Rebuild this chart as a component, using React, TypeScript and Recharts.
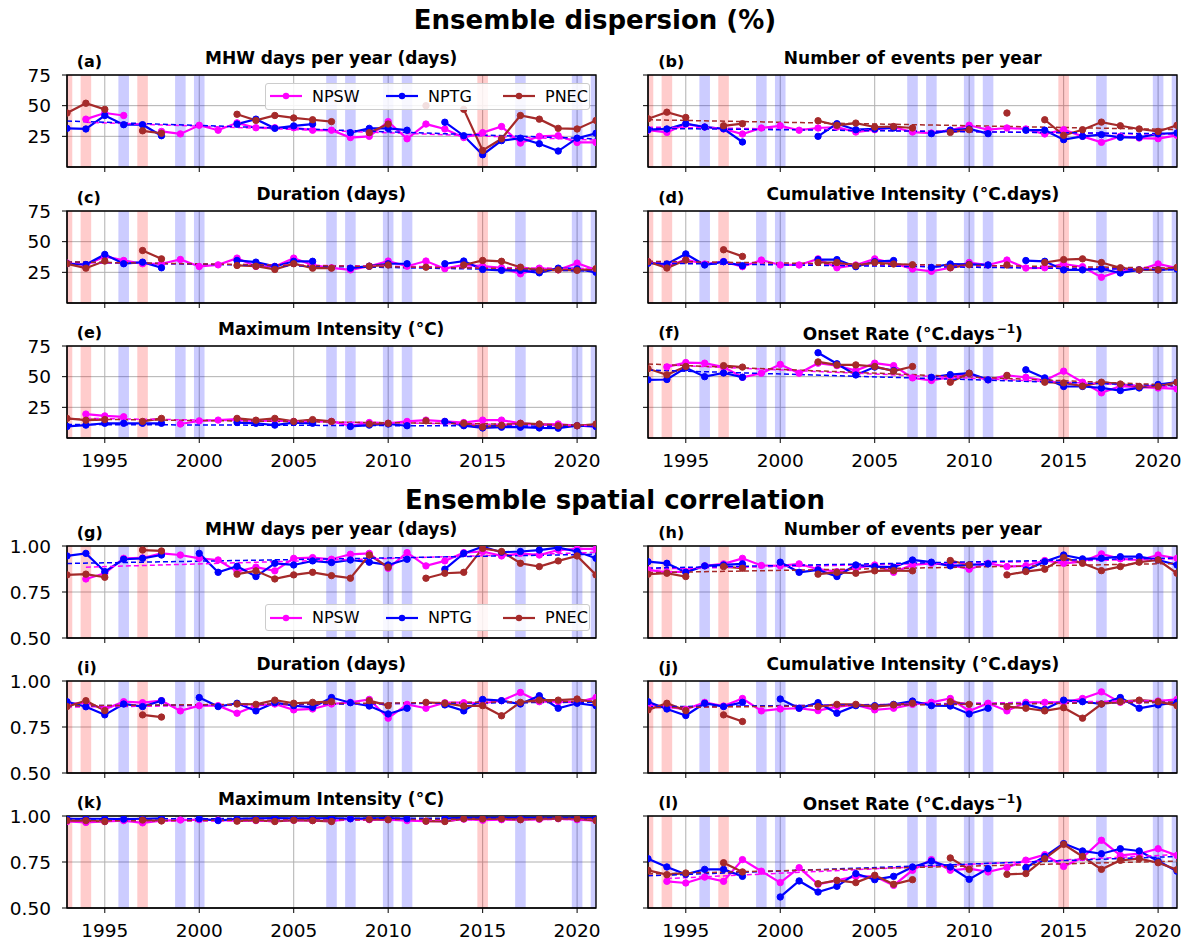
import React from 'react';
import { LineChart, Line, XAxis, YAxis, CartesianGrid, ReferenceArea, ReferenceLine } from 'recharts';

const YEARS = [1993, 1994, 1995, 1996, 1997, 1998, 1999, 2000, 2001, 2002, 2003, 2004, 2005, 2006, 2007, 2008, 2009, 2010, 2011, 2012, 2013, 2014, 2015, 2016, 2017, 2018, 2019, 2020, 2021];
const EL_NINO_YEARS = [1993, 1994, 1997, 2015];
const LA_NINA_YEARS = [1996, 1999, 2000, 2007, 2008, 2010, 2011, 2017, 2020, 2021];
const X_TICKS = [1995, 2000, 2005, 2010, 2015, 2020];
const PCT_TICKS = [25, 50, 75];
const CORR_TICKS = [0.5, 0.75, 1.0];
const SERIES_NAMES = ['NPSW', 'NPTG', 'PNEC'];
const SERIES_KEYS = ['npsw', 'nptg', 'pnec'];
const SERIES_COLORS = ['#ff00ff', '#0000ff', '#a52a2a'];

const N = null;

// (a) MHW days per year – dispersion
const A_NPSW = [N, 39, 44, 42, N, 29, 27, 34, 30, 36, 32, 32, 32, 30, 30, 24, 25, 37, 23, 35, 31, 24, 28, 33, 19.5, 25, 25.5, 20, 20];
const A_NPTG = [31.5, 31, 42, 34.5, 34.5, 25.5, N, N, N, 35, 39, 31.5, 33.5, 35, N, 28, 31.5, 31.5, 30, N, 36.5, 25.5, 10, 21.5, 23.5, 19, 13, 23.5, 27.5];
const A_PNEC = [44, 52, 47, N, 29.5, 27.5, N, N, N, 43, 38, 42, 40, 38.5, 37, N, 28, 35, N, 50, N, 47, 13.5, 23, 42, 39, 31.5, 31, 38];
const A_TRENDS = [[1994, 36.5, 2021, 22], [1993, 37.5, 2021, 23], null];

// (b) Number of events per year – dispersion
const B_NPSW = [30, 28.2, 35, 32.6, 31, 26.9, 31.8, 33.6, 30, 31.8, 32.6, 28.5, 30.4, 32.6, 28.5, 27.7, 30, 34, 30.4, 31.8, 31, 26.9, 30.4, 25, 20.1, 25, 23.6, 23.1, 25.8];
const B_NPTG = [30.4, 31, 35.3, 32.6, 31.2, 20.4, N, N, N, 25, 35.3, 30.4, 31, 31.8, N, 27.2, 30, 31, 27.2, N, 30, 30, 22.3, 25, 26.4, 24.2, 24.2, 27, 27.7];
const B_PNEC = [39.3, 44.7, 40.4, N, 33.6, 35.3, N, N, N, 37.7, 34, 35.8, 32.6, 33, 31.8, N, 28.2, 30.4, N, 44, N, 38.5, 25.8, 30.4, 36.6, 33.6, 31, 29, 34];
const B_TRENDS = [[1993, 32.5, 2021, 26.5], [1993, 31.5, 2021, 27], [1993, 38.5, 2021, 30.5]];

// (c) Duration – dispersion
const C_NPSW = [32.5, 31, 38, 34.7, 32, 32, 35.5, 29.8, 31.1, 36.6, 29.8, 29.8, 36.6, 31, 28.7, 27, 30, 34.2, 30, 34.2, 28, 31, 30, 28.7, 23.8, 28.4, 27, 32.5, 27];
const C_NPTG = [32, 31.4, 39.6, 32, 33.3, 28.7, N, N, N, 34.7, 33.3, 29.8, 34, 34, N, 28.4, 30, 32, 32, N, 32, 34.2, 27.4, 26.6, 26.6, 24.6, 28.4, 27.8, 25];
const C_PNEC = [32, 28.4, 34.2, N, 42.8, 36, N, N, N, 30.6, 30, 27.4, 32, 28.4, 28.4, N, 30, 31, N, 29.2, N, 31, 34.7, 34, 29.2, 26.6, 27, 26.6, 28];
const C_TRENDS = [[1993, 33, 2021, 28], [1993, 33.5, 2021, 26], [1993, 33.5, 2021, 27]];

// (d) Cumulative intensity – dispersion
const D_NPSW = [33.7, 30, 35.4, 31.8, 33.7, 29.6, 35, 31, 31, 36, 28.7, 31, 36, 32.4, 27.7, 25.8, 28.7, 33, 31, 35, 28.5, 28.7, 31.8, 29.6, 21, 26.4, 27, 31.8, 28.5];
const D_NPTG = [32.4, 31.8, 40, 31, 33.7, 30.4, N, N, N, 35.4, 35.4, 29.6, 33.7, 34.6, N, 29, 31.8, 31.5, 31, N, 34.6, 34, 27, 27, 27.7, 24.5, 27, 27, 27.7];
const D_PNEC = [33.7, 28.5, 35, N, 43.4, 38, N, N, N, 33, 33, 30.4, 33, 31.8, 31.2, N, 28.7, 31.2, N, 31, N, 33, 35.4, 36, 33, 28.7, 27, 27, 29];
const D_TRENDS = [[1993, 33, 2021, 27.5], [1993, 32.5, 2021, 27], [1993, 34, 2021, 28.5]];

// (e) Maximum intensity – dispersion
const E_NPSW = [N, 19.5, 18, 17.3, N, N, 11.4, 14, 14.6, 15.4, 14, 14.6, 13.5, 14, 13.5, 10, 12.6, 12, 13.5, 14.6, 13.5, 12.6, 14.6, 14.6, 12, 11, 11.4, 10, 9.4];
const E_NPTG = [9.4, 10.5, 12, 12, 12, 12, N, N, N, 12.6, 12, 10.5, 12.6, 12, N, 9.4, 10.5, 11.4, 10, N, 13.5, 10, 8.2, 8.8, 8.8, 8.2, 8, 10, 9.4];
const E_PNEC = [16, 14.5, 15, N, 13.5, 16, N, N, N, 16, 14.5, 16, 13.5, 15, 13.5, N, 11.4, 12, N, 14, N, 12, 9, 10.4, 12, 11.4, 10, 10, 11.4];
const E_TRENDS = [[1994, 16, 2021, 10], [1993, 11, 2021, 9.5], [1993, 15.5, 2021, 10.5]];

// (f) Onset rate – dispersion
const F_NPSW = [N, 58, 61.5, 61, 57.8, 49.5, 52.8, 60, 52.8, 61, 59, 55, 61, 59, 49, 46.9, 49.5, 52.3, 47.4, 51, 49.5, 46.9, 54.5, 45.5, 36.8, 42.3, 41.4, 40.8, 40];
const F_NPTG = [47.4, 47.7, 57.2, 50, 53, 49.5, N, N, N, 69.5, 60.5, 51.4, 57.8, 55, N, 49.5, 51.7, 52.8, 47.4, N, 55.6, 49, 42, 42, 40.8, 38.7, 40.8, 43.6, 45.5];
const F_PNEC = [56.5, 51.5, 58.3, N, 59, 57.8, N, N, N, 62, 59.6, 59.6, 58.3, 54.5, 58.3, N, 45.5, 52.8, N, 51, N, 45.5, 44.9, 42.3, 45.5, 44, 42, 42, 45.5];
const F_TRENDS = [[1994, 59.5, 2021, 41.5], [1993, 55.4, 2021, 42.5], [1993, 60.3, 2021, 43]];

// (g) MHW days per year – correlation
const G_NPSW = [N, 0.821, 0.852, 0.933, 0.935, 0.96, 0.951, 0.933, 0.924, 0.861, 0.885, 0.865, 0.933, 0.937, 0.928, 0.955, 0.96, 0.879, 0.964, 0.892, 0.919, 0.964, 0.97, 0.946, 0.96, 0.951, 0.978, 0.984, 0.984];
const G_NPTG = [0.946, 0.96, 0.861, 0.928, 0.933, 0.951, N, 0.96, 0.857, 0.89, 0.834, 0.906, 0.897, 0.919, 0.91, 0.924, 0.912, 0.897, 0.928, N, 0.874, 0.96, 0.996, 0.966, 0.97, 0.978, 0.991, 0.97, 0.933];
const G_PNEC = [0.843, 0.847, 0.83, N, 0.978, 0.973, N, N, N, 0.847, 0.865, 0.821, 0.843, 0.857, 0.839, 0.825, 0.951, 0.885, N, 0.825, 0.852, 0.857, 0.987, 0.97, 0.906, 0.888, 0.919, 0.946, 0.843];
const G_TRENDS = [[1994, 0.885, 2021, 0.965], [1993, 0.905, 2021, 0.955], null];

// (h) Number of events per year – correlation
const H_NPSW = [0.87, 0.857, 0.861, 0.892, 0.903, 0.933, 0.894, 0.892, 0.903, 0.874, 0.861, 0.879, 0.897, 0.857, 0.897, 0.906, 0.897, 0.874, 0.906, 0.888, 0.892, 0.921, 0.906, 0.915, 0.957, 0.93, 0.924, 0.951, 0.933];
const H_NPTG = [0.915, 0.906, 0.857, 0.892, 0.897, 0.903, N, 0.912, 0.857, 0.87, 0.834, 0.897, 0.888, 0.885, 0.924, 0.912, 0.892, 0.897, 0.903, N, 0.87, 0.915, 0.951, 0.93, 0.933, 0.942, 0.942, 0.924, 0.897];
const H_PNEC = [0.847, 0.852, 0.834, N, 0.888, 0.879, N, N, N, 0.847, 0.857, 0.852, 0.865, 0.866, 0.865, N, 0.921, 0.897, N, 0.843, 0.861, 0.874, 0.937, 0.906, 0.866, 0.888, 0.912, 0.924, 0.852];
const H_TRENDS = [[1993, 0.875, 2021, 0.93], [1993, 0.88, 2021, 0.935], [1993, 0.855, 2021, 0.905]];

// (i) Duration – correlation
const I_NPSW = [0.875, 0.882, 0.846, 0.8875, 0.882, 0.893, 0.8375, 0.866, 0.866, 0.825, 0.866, 0.875, 0.843, 0.848, 0.875, 0.884, 0.9, 0.798, 0.873, 0.852, 0.882, 0.882, 0.879, 0.893, 0.9375, 0.8875, 0.8875, 0.884, 0.91];
const I_NPTG = [0.8875, 0.86, 0.816, 0.875, 0.861, 0.893, N, 0.91, 0.861, 0.879, 0.8375, 0.882, 0.866, 0.857, 0.91, 0.882, 0.864, 0.821, 0.852, N, 0.87, 0.8375, 0.9, 0.893, 0.875, 0.92, 0.852, 0.879, 0.866];
const I_PNEC = [0.861, 0.893, 0.839, N, 0.816, 0.804, N, N, N, 0.875, 0.873, 0.896, 0.879, 0.884, 0.8875, N, 0.893, 0.866, N, 0.884, 0.879, 0.864, 0.866, 0.811, 0.884, 0.896, 0.896, 0.902, 0.882];
const I_TRENDS = [[1993, 0.858, 2021, 0.89], [1993, 0.865, 2021, 0.885], [1993, 0.865, 2021, 0.89]];

// (j) Cumulative intensity – correlation
const J_NPSW = [0.87, 0.861, 0.846, 0.884, 0.864, 0.905, 0.8375, 0.848, 0.852, 0.839, 0.861, 0.87, 0.843, 0.852, 0.873, 0.884, 0.905, 0.8375, 0.879, 0.8375, 0.884, 0.884, 0.884, 0.905, 0.941, 0.884, 0.893, 0.891, 0.9];
const J_NPTG = [0.8875, 0.848, 0.8125, 0.879, 0.861, 0.884, N, 0.902, 0.852, 0.882, 0.825, 0.866, 0.866, 0.873, 0.891, 0.866, 0.864, 0.821, 0.852, N, 0.873, 0.846, 0.896, 0.8875, 0.875, 0.91, 0.852, 0.87, 0.884];
const J_PNEC = [0.843, 0.879, 0.839, N, 0.816, 0.78, N, N, N, 0.861, 0.873, 0.873, 0.861, 0.87, 0.879, N, 0.8875, 0.873, N, 0.861, 0.852, 0.8375, 0.855, 0.798, 0.875, 0.8875, 0.896, 0.8875, 0.866];
const J_TRENDS = [[1993, 0.855, 2021, 0.895], [1993, 0.86, 2021, 0.885], [1993, 0.855, 2021, 0.885]];

// (k) Maximum intensity – correlation
const K_NPSW = [0.97, 0.965, 0.97, 0.975, 0.963, 0.975, 0.978, 0.98, 0.978, 0.975, 0.975, 0.972, 0.977, 0.975, 0.972, 0.985, 0.98, 0.98, 0.975, 0.972, 0.972, 0.983, 0.977, 0.98, 0.98, 0.982, 0.985, 0.98, 0.975];
const K_NPTG = [0.985, 0.985, 0.985, 0.983, 0.985, 0.987, N, 0.985, 0.975, 0.985, 0.987, 0.989, 0.987, 0.987, 0.989, 0.985, 0.987, 0.989, 0.985, N, 0.987, 0.99, 0.99, 0.99, 0.99, 0.99, 0.99, 0.99, 0.988];
const K_PNEC = [0.975, 0.975, 0.97, N, 0.978, 0.973, N, N, N, 0.972, 0.977, 0.97, 0.977, 0.975, 0.97, N, 0.982, 0.98, N, 0.972, 0.97, 0.985, 0.984, 0.985, 0.98, 0.985, 0.987, 0.985, 0.975];
const K_TRENDS = [[1993, 0.97, 2021, 0.982], [1993, 0.984, 2021, 0.99], [1993, 0.973, 2021, 0.985]];

// (l) Onset rate – correlation
const L_NPSW = [N, 0.645, 0.636, 0.668, 0.645, 0.763, 0.7, 0.638, 0.719, 0.629, 0.65, 0.672, 0.672, 0.623, 0.705, 0.763, 0.705, 0.714, 0.696, 0.72, 0.76, 0.79, 0.726, 0.774, 0.868, 0.786, 0.795, 0.822, 0.786];
const L_NPTG = [0.768, 0.723, 0.683, 0.71, 0.71, 0.672, N, 0.56, 0.647, 0.587, 0.618, 0.687, 0.654, 0.672, 0.723, 0.755, 0.723, 0.656, 0.714, N, 0.719, 0.78, 0.85, 0.81, 0.795, 0.822, 0.81, 0.755, 0.7];
const L_PNEC = [0.705, 0.681, 0.69, N, 0.746, 0.696, N, N, N, 0.632, 0.65, 0.638, 0.678, 0.629, 0.654, N, 0.772, 0.71, N, 0.683, 0.687, 0.768, 0.846, 0.78, 0.71, 0.759, 0.768, 0.746, 0.708];
const L_TRENDS = [[1994, 0.66, 2021, 0.79], [1993, 0.675, 2021, 0.78], [1993, 0.685, 2021, 0.755]];

// ---------- layout ----------
const FONT = 'DejaVu Sans, Verdana, sans-serif';
const PLOT_W = 529;
const PLOT_H = 92;
const Y_AXIS_W = 60;
const M_TOP = 14;
const X_AXIS_H = 40;
const COL_LEFT = [66.7, 648.3];
const ROW_TOP = [74.5, 210.5, 345.5, 546, 681, 816];
const BAND_HALF = 0.28;

type Trend = number[] | null;

interface PanelProps {
  letter: string;
  title: React.ReactNode;
  col: number;
  row: number;
  values: (number | null)[][];
  trends: Trend[];
  corr: boolean;
  showX: boolean;
  legend?: 'top' | 'bottom';
}

function LegendBox({ top, left }: { top: number; left: number }) {
  const offsets = [0, 116, 233];
  return (
    <div
      style={{
        position: 'absolute',
        left,
        top,
        width: 323,
        height: 25,
        border: '1px solid #cccccc',
        borderRadius: 3,
        background: 'rgba(255,255,255,0.85)',
        fontFamily: FONT,
        fontSize: 16,
        color: '#000',
      }}
    >
      {SERIES_NAMES.map((name, i) => (
        <div key={name} style={{ position: 'absolute', left: 4 + offsets[i], top: 0, height: 25, display: 'flex', alignItems: 'center' }}>
          <svg width={32} height={10} style={{ display: 'block' }}>
            <line x1={0} y1={5} x2={32} y2={5} stroke={SERIES_COLORS[i]} strokeWidth={2.2} />
            <circle cx={16} cy={5} r={3.2} fill={SERIES_COLORS[i]} />
          </svg>
          <span style={{ marginLeft: 10, lineHeight: '25px' }}>{name}</span>
        </div>
      ))}
    </div>
  );
}

function Panel({ letter, title, col, row, values, trends, corr, showX, legend }: PanelProps) {
  const plotLeft = COL_LEFT[col];
  const plotTop = ROW_TOP[row];
  const yDomain = corr ? [0.5, 1.0] : [0, 75];
  const yTicks = corr ? CORR_TICKS : PCT_TICKS;
  const showY = col === 0;
  const data = YEARS.map((yr, i) => ({
    year: yr,
    npsw: values[0][i],
    nptg: values[1][i],
    pnec: values[2][i],
  }));
  const tickStyle = { fill: '#000', fontSize: 18.5, fontFamily: FONT };
  return (
    <>
      <div
        style={{
          position: 'absolute',
          left: plotLeft,
          width: PLOT_W,
          top: plotTop - 28,
          height: 22,
          lineHeight: '22px',
          textAlign: 'center',
          fontFamily: FONT,
          fontWeight: 'bold',
          fontSize: 17,
          color: '#000',
          whiteSpace: 'nowrap',
        }}
      >
        {title}
      </div>
      <div
        style={{
          position: 'absolute',
          left: plotLeft + 10,
          top: plotTop - 24,
          height: 22,
          lineHeight: '22px',
          fontFamily: FONT,
          fontWeight: 'bold',
          fontSize: 16,
          color: '#000',
        }}
      >
        {letter}
      </div>
      <div style={{ position: 'absolute', left: plotLeft - Y_AXIS_W, top: plotTop - M_TOP }}>
        <LineChart width={Y_AXIS_W + PLOT_W + 5} height={M_TOP + PLOT_H + X_AXIS_H} data={data} margin={{ top: M_TOP, right: 5, bottom: 0, left: 0 }}>
          <CartesianGrid stroke="#b0b0b0" strokeWidth={1} />
          <XAxis
            dataKey="year"
            type="number"
            domain={[1993, 2021]}
            ticks={X_TICKS}
            interval={0}
            allowDataOverflow
            height={X_AXIS_H}
            tickSize={5}
            tickMargin={11}
            stroke="#000"
            tick={tickStyle}
            tickFormatter={(v: number) => (showX ? String(v) : '')}
          />
          <YAxis
            type="number"
            domain={yDomain}
            ticks={yTicks}
            interval={0}
            allowDataOverflow
            width={Y_AXIS_W}
            tickSize={5}
            tickMargin={11}
            stroke="#000"
            tick={tickStyle}
            tickFormatter={(v: number) => (showY ? (corr ? v.toFixed(2) : String(v)) : '')}
          />
          {EL_NINO_YEARS.map((yr) => (
            <ReferenceArea key={'r' + yr} x1={yr - BAND_HALF} x2={yr + BAND_HALF} y1={yDomain[0]} y2={yDomain[1]} fill="#ff0000" fillOpacity={0.2} stroke="none" ifOverflow="hidden" />
          ))}
          {LA_NINA_YEARS.map((yr) => (
            <ReferenceArea key={'b' + yr} x1={yr - BAND_HALF} x2={yr + BAND_HALF} y1={yDomain[0]} y2={yDomain[1]} fill="#0000ff" fillOpacity={0.2} stroke="none" ifOverflow="hidden" />
          ))}
          {SERIES_KEYS.map((k, i) => (
            <Line
              key={k}
              type="linear"
              dataKey={k}
              name={SERIES_NAMES[i]}
              stroke={SERIES_COLORS[i]}
              strokeWidth={2.2}
              dot={{ r: 3.2, fill: SERIES_COLORS[i], stroke: SERIES_COLORS[i], strokeWidth: 1 }}
              activeDot={false}
              connectNulls={false}
              isAnimationActive={false}
            />
          ))}
          {trends.map((t, i) =>
            t ? (
              <ReferenceLine
                key={'t' + i}
                segment={[{ x: t[0], y: t[1] }, { x: t[2], y: t[3] }]}
                stroke={SERIES_COLORS[i]}
                strokeWidth={1.5}
                strokeDasharray="5 3"
                ifOverflow="visible"
              />
            ) : null
          )}
          <ReferenceArea x1={1993} x2={2021} y1={yDomain[0]} y2={yDomain[1]} fill="none" stroke="#000" strokeWidth={1.3} ifOverflow="visible" />
        </LineChart>
      </div>
      {legend === 'top' && <LegendBox left={265} top={plotTop + 8} />}
      {legend === 'bottom' && <LegendBox left={265} top={plotTop + 58} />}
    </>
  );
}

const ONSET_TITLE = (
  <>
    Onset Rate (°C.days<sup style={{ fontSize: 12, marginLeft: 2 }}>−1</sup>)
  </>
);

export default function App() {
  return (
    <div style={{ position: 'absolute', left: 0, top: 0, width: 1190, height: 942, background: '#fff', overflow: 'hidden' }}>
      <div style={{ position: 'absolute', left: 0, width: 1190, top: 5, height: 30, lineHeight: '30px', textAlign: 'center', fontFamily: FONT, fontWeight: 'bold', fontSize: 26, color: '#000' }}>
        Ensemble dispersion (%)
      </div>
      <div style={{ position: 'absolute', left: 20, width: 1190, top: 485, height: 30, lineHeight: '30px', textAlign: 'center', fontFamily: FONT, fontWeight: 'bold', fontSize: 26, color: '#000' }}>
        Ensemble spatial correlation
      </div>
      <Panel letter="(a)" title="MHW days per year (days)" col={0} row={0} values={[A_NPSW, A_NPTG, A_PNEC]} trends={A_TRENDS} corr={false} showX={false} legend="top" />
      <Panel letter="(b)" title="Number of events per year" col={1} row={0} values={[B_NPSW, B_NPTG, B_PNEC]} trends={B_TRENDS} corr={false} showX={false} />
      <Panel letter="(c)" title="Duration (days)" col={0} row={1} values={[C_NPSW, C_NPTG, C_PNEC]} trends={C_TRENDS} corr={false} showX={false} />
      <Panel letter="(d)" title="Cumulative Intensity (°C.days)" col={1} row={1} values={[D_NPSW, D_NPTG, D_PNEC]} trends={D_TRENDS} corr={false} showX={false} />
      <Panel letter="(e)" title="Maximum Intensity (°C)" col={0} row={2} values={[E_NPSW, E_NPTG, E_PNEC]} trends={E_TRENDS} corr={false} showX={true} />
      <Panel letter="(f)" title={ONSET_TITLE} col={1} row={2} values={[F_NPSW, F_NPTG, F_PNEC]} trends={F_TRENDS} corr={false} showX={true} />
      <Panel letter="(g)" title="MHW days per year (days)" col={0} row={3} values={[G_NPSW, G_NPTG, G_PNEC]} trends={G_TRENDS} corr={true} showX={false} legend="bottom" />
      <Panel letter="(h)" title="Number of events per year" col={1} row={3} values={[H_NPSW, H_NPTG, H_PNEC]} trends={H_TRENDS} corr={true} showX={false} />
      <Panel letter="(i)" title="Duration (days)" col={0} row={4} values={[I_NPSW, I_NPTG, I_PNEC]} trends={I_TRENDS} corr={true} showX={false} />
      <Panel letter="(j)" title="Cumulative Intensity (°C.days)" col={1} row={4} values={[J_NPSW, J_NPTG, J_PNEC]} trends={J_TRENDS} corr={true} showX={false} />
      <Panel letter="(k)" title="Maximum Intensity (°C)" col={0} row={5} values={[K_NPSW, K_NPTG, K_PNEC]} trends={K_TRENDS} corr={true} showX={true} />
      <Panel letter="(l)" title={ONSET_TITLE} col={1} row={5} values={[L_NPSW, L_NPTG, L_PNEC]} trends={L_TRENDS} corr={true} showX={true} />
    </div>
  );
}
